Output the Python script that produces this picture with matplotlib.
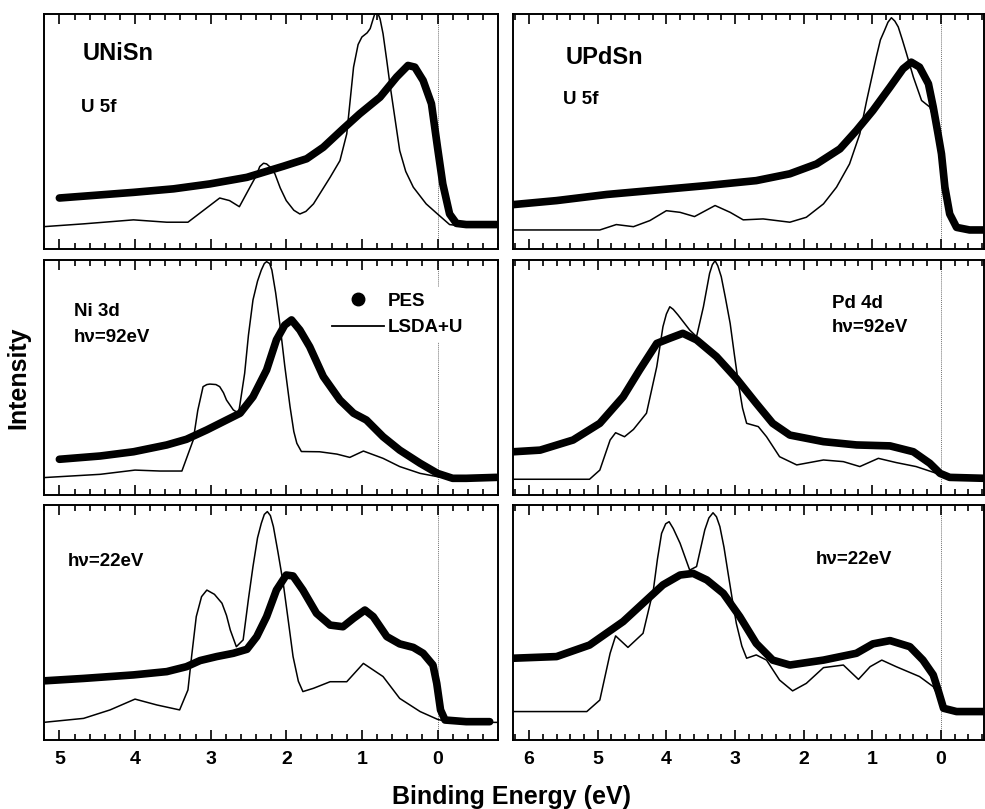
import matplotlib
matplotlib.use("Agg")
import matplotlib.pyplot as plt
from matplotlib.lines import Line2D
from matplotlib.ticker import MultipleLocator

plt.rcParams['font.family'] = ['Liberation Sans', 'DejaVu Sans']
plt.rcParams['font.weight'] = 'bold'

# ---- data (intensity in arbitrary units, 0..1 of panel) ----
# UNiSn, U 5f
unisn_5f_pes_e = [5.0, 4.02, 3.49, 3.01, 2.52, 2.04, 1.73, 1.51, 1.25, 1.03, 0.76, 0.54,
                  0.39, 0.30, 0.19, 0.08, 0.0, -0.07, -0.16, -0.25, -0.38, -0.78]
unisn_5f_pes_i = [0.217, 0.241, 0.256, 0.277, 0.305, 0.352, 0.384, 0.433, 0.511, 0.575, 0.646, 0.732,
                  0.781, 0.774, 0.717, 0.618, 0.433, 0.277, 0.149, 0.109, 0.104, 0.104]
unisn_5f_calc_e = [5.21, 4.68, 4.02, 3.58, 3.30, 3.10, 2.88, 2.75, 2.62, 2.48, 2.40, 2.35, 2.30, 2.26,
                   2.20, 2.15, 2.08, 2.00, 1.90, 1.82, 1.74, 1.64, 1.42, 1.29, 1.20, 1.11, 1.05, 1.00,
                   0.93, 0.89, 0.85, 0.81, 0.76, 0.72, 0.67, 0.63, 0.56, 0.50, 0.42, 0.32, 0.15, 0.0,
                   -0.16, -0.38, -0.82]
unisn_5f_calc_i = [0.095, 0.107, 0.124, 0.114, 0.114, 0.163, 0.217, 0.206, 0.180, 0.263, 0.310, 0.351, 0.365, 0.362,
                   0.345, 0.320, 0.260, 0.206, 0.165, 0.149, 0.160, 0.192, 0.305, 0.376, 0.490, 0.774, 0.870, 0.902,
                   0.920, 0.938, 0.980, 1.02, 0.980, 0.916, 0.800, 0.703, 0.550, 0.419, 0.330, 0.263, 0.192, 0.149,
                   0.104, 0.095, 0.095]

# UPdSn, U 5f
updsn_5f_pes_e = [6.23, 5.60, 4.87, 4.14, 3.41, 2.69, 2.20, 1.81, 1.47, 1.23, 0.99, 0.74, 0.55,
                  0.43, 0.31, 0.18, 0.11, 0.04, -0.01, -0.06, -0.13, -0.23, -0.42, -0.64]
updsn_5f_pes_i = [0.189, 0.206, 0.232, 0.251, 0.270, 0.291, 0.320, 0.362, 0.426, 0.504, 0.589, 0.689, 0.767,
                  0.795, 0.774, 0.703, 0.604, 0.490, 0.405, 0.263, 0.149, 0.092, 0.081, 0.081]
updsn_5f_calc_e = [6.23, 4.97, 4.73, 4.48, 4.24, 4.00, 3.80, 3.59, 3.29, 3.07, 2.88, 2.59, 2.20, 1.96,
                   1.71, 1.52, 1.33, 1.18, 1.08, 0.94, 0.88, 0.82, 0.77, 0.72, 0.67, 0.62, 0.56, 0.50,
                   0.40, 0.28, 0.16, 0.06, -0.01, -0.06, -0.13, -0.23, -0.64]
updsn_5f_calc_i = [0.081, 0.081, 0.104, 0.095, 0.121, 0.163, 0.156, 0.138, 0.185, 0.156, 0.124, 0.128, 0.114, 0.135,
                   0.192, 0.263, 0.362, 0.490, 0.632, 0.817, 0.890, 0.930, 0.965, 0.984, 0.970, 0.945, 0.890, 0.832,
                   0.732, 0.632, 0.604, 0.518, 0.376, 0.263, 0.135, 0.089, 0.081]

# UNiSn, Ni 3d, hv = 92 eV
unisn_92_pes_e = [5.0, 4.46, 4.02, 3.58, 3.32, 3.05, 2.79, 2.61, 2.44, 2.26, 2.13, 2.02, 1.93, 1.82,
                  1.69, 1.51, 1.29, 1.11, 0.94, 0.72, 0.50, 0.23, 0.0, -0.20, -0.38, -0.78]
unisn_92_pes_i = [0.152, 0.166, 0.184, 0.213, 0.237, 0.277, 0.319, 0.348, 0.418, 0.532, 0.660, 0.723, 0.745, 0.702,
                  0.631, 0.504, 0.404, 0.348, 0.319, 0.248, 0.191, 0.135, 0.092, 0.071, 0.071, 0.075]
unisn_92_calc_e = [5.21, 4.46, 4.00, 3.67, 3.38, 3.23, 3.17, 3.10, 3.05, 3.01, 2.93, 2.88, 2.83, 2.79, 2.70,
                   2.63, 2.55, 2.50, 2.44, 2.38, 2.33, 2.29, 2.26, 2.22, 2.19, 2.14, 2.08, 2.02, 1.95,
                   1.90, 1.86, 1.80, 1.56, 1.33, 1.16, 0.98, 0.72, 0.50, 0.23, 0.0, -0.38, -0.82]
unisn_92_calc_i = [0.074, 0.088, 0.106, 0.102, 0.102, 0.234, 0.360, 0.461, 0.470, 0.472, 0.470, 0.461, 0.435, 0.404, 0.362,
                   0.348, 0.518, 0.680, 0.830, 0.910, 0.957, 0.985, 0.993, 0.985, 0.957, 0.860, 0.716, 0.550, 0.376,
                   0.270, 0.220, 0.185, 0.184, 0.174, 0.160, 0.187, 0.156, 0.121, 0.092, 0.078, 0.071, 0.071]

# UPdSn, Pd 4d, hv = 92 eV
updsn_92_pes_e = [6.23, 5.84, 5.36, 4.97, 4.63, 4.39, 4.14, 3.95, 3.76, 3.56, 3.27, 2.98, 2.69, 2.45,
                  2.20, 1.71, 1.23, 0.74, 0.40, 0.16, 0.01, -0.13, -0.64]
updsn_92_pes_i = [0.184, 0.191, 0.234, 0.305, 0.418, 0.532, 0.645, 0.667, 0.688, 0.660, 0.589, 0.496, 0.390, 0.305,
                  0.255, 0.227, 0.213, 0.209, 0.184, 0.135, 0.092, 0.075, 0.071]
updsn_92_calc_e = [6.23, 5.12, 4.97, 4.82, 4.74, 4.61, 4.48, 4.29, 4.14, 4.09, 4.05, 4.00, 3.95, 3.90, 3.83,
                   3.66, 3.56, 3.46, 3.41, 3.37, 3.33, 3.29, 3.25, 3.20, 3.14, 3.07, 3.01, 2.95, 2.89,
                   2.83, 2.66, 2.54, 2.35, 2.10, 1.71, 1.42, 1.18, 0.91, 0.65, 0.36, 0.06, -0.09, -0.64]
updsn_92_calc_i = [0.067, 0.067, 0.106, 0.234, 0.265, 0.248, 0.279, 0.348, 0.546, 0.640, 0.716, 0.770, 0.801, 0.790, 0.766,
                   0.702, 0.674, 0.801, 0.880, 0.943, 0.980, 0.997, 0.975, 0.929, 0.840, 0.730, 0.600, 0.475, 0.370,
                   0.305, 0.291, 0.248, 0.163, 0.128, 0.149, 0.142, 0.121, 0.156, 0.138, 0.121, 0.092, 0.075, 0.071]

# UNiSn, hv = 22 eV
unisn_22_pes_e = [5.19, 4.68, 4.02, 3.58, 3.32, 3.14, 2.92, 2.70, 2.52, 2.39, 2.26, 2.13, 2.00, 1.91, 1.78,
                  1.60, 1.42, 1.25, 1.11, 0.96, 0.85, 0.67, 0.50, 0.32, 0.19, 0.06, 0.01, -0.04, -0.10,
                  -0.38, -0.69]
unisn_22_pes_i = [0.252, 0.262, 0.277, 0.291, 0.312, 0.338, 0.355, 0.369, 0.386, 0.440, 0.525, 0.638, 0.702, 0.698, 0.638,
                  0.539, 0.489, 0.482, 0.518, 0.553, 0.525, 0.440, 0.409, 0.394, 0.369, 0.319, 0.241, 0.128, 0.085,
                  0.078, 0.078]
unisn_22_calc_e = [5.21, 4.68, 4.33, 4.00, 3.71, 3.41, 3.30, 3.25, 3.19, 3.12, 3.05, 2.95, 2.85, 2.79, 2.74,
                   2.66, 2.57, 2.50, 2.44, 2.38, 2.33, 2.29, 2.25, 2.21, 2.17, 2.11, 2.04, 1.97, 1.91,
                   1.84, 1.78, 1.64, 1.42, 1.20, 0.98, 0.72, 0.50, 0.23, 0.0, -0.16, -0.82]
unisn_22_calc_i = [0.075, 0.092, 0.128, 0.174, 0.149, 0.128, 0.213, 0.360, 0.525, 0.610, 0.638, 0.620, 0.582, 0.530, 0.468,
                   0.397, 0.426, 0.600, 0.738, 0.860, 0.922, 0.960, 0.972, 0.955, 0.908, 0.800, 0.667, 0.500, 0.355,
                   0.250, 0.206, 0.220, 0.248, 0.248, 0.326, 0.270, 0.177, 0.121, 0.088, 0.075, 0.075]

# UPdSn, hv = 22 eV
updsn_22_pes_e = [6.23, 5.60, 5.12, 4.63, 4.34, 4.05, 3.80, 3.61, 3.41, 3.17, 2.93, 2.69, 2.45, 2.20, 1.71,
                  1.23, 0.99, 0.74, 0.45, 0.26, 0.11, 0.04, -0.04, -0.23, -0.64]
updsn_22_pes_i = [0.348, 0.355, 0.404, 0.504, 0.582, 0.660, 0.702, 0.709, 0.681, 0.624, 0.525, 0.411, 0.340, 0.319, 0.340,
                  0.369, 0.409, 0.423, 0.397, 0.340, 0.277, 0.213, 0.135, 0.121, 0.121]
updsn_22_calc_e = [6.23, 5.16, 4.97, 4.82, 4.74, 4.56, 4.34, 4.19, 4.13, 4.07, 4.01, 3.96, 3.90, 3.80, 3.66,
                   3.56, 3.44, 3.38, 3.32, 3.27, 3.22, 3.16, 3.10, 3.04, 2.98, 2.90, 2.83, 2.69, 2.54,
                   2.35, 2.16, 1.96, 1.71, 1.42, 1.20, 1.03, 0.86, 0.65, 0.31, 0.11, 0.01, -0.06, -0.64]
updsn_22_calc_i = [0.121, 0.121, 0.170, 0.369, 0.443, 0.394, 0.454, 0.638, 0.770, 0.879, 0.920, 0.929, 0.900, 0.837, 0.723,
                   0.738, 0.894, 0.945, 0.967, 0.950, 0.908, 0.820, 0.709, 0.600, 0.496, 0.400, 0.348, 0.362, 0.340,
                   0.255, 0.209, 0.241, 0.308, 0.319, 0.258, 0.312, 0.340, 0.312, 0.270, 0.227, 0.170, 0.128, 0.121]

left_xlim = (5.21, -0.80)
right_xlim = (6.24, -0.63)
left_ticks = [5, 4, 3, 2, 1, 0]
right_ticks = [6, 5, 4, 3, 2, 1, 0]

panels = [
    # (row, col, pes_e, pes_i, calc_e, calc_i)
    (0, 0, unisn_5f_pes_e, unisn_5f_pes_i, unisn_5f_calc_e, unisn_5f_calc_i),
    (0, 1, updsn_5f_pes_e, updsn_5f_pes_i, updsn_5f_calc_e, updsn_5f_calc_i),
    (1, 0, unisn_92_pes_e, unisn_92_pes_i, unisn_92_calc_e, unisn_92_calc_i),
    (1, 1, updsn_92_pes_e, updsn_92_pes_i, updsn_92_calc_e, updsn_92_calc_i),
    (2, 0, unisn_22_pes_e, unisn_22_pes_i, unisn_22_calc_e, unisn_22_calc_i),
    (2, 1, updsn_22_pes_e, updsn_22_pes_i, updsn_22_calc_e, updsn_22_calc_i),
]

W, H = 985, 809
fig = plt.figure(figsize=(W / 100, H / 100), dpi=100)

col_box = {0: (43.5, 498.0), 1: (512.7, 984.0)}
row_box = {0: (14, 249), 1: (260, 495), 2: (505, 740)}

axes = {}
for row, col, pe, pi, ce, ci in panels:
    x0, x1 = col_box[col]
    y0, y1 = row_box[row]
    ax = fig.add_axes([x0 / W, 1 - y1 / H, (x1 - x0) / W, (y1 - y0) / H])
    axes[(row, col)] = ax

    ax.axvline(0, color='0.45', lw=0.7, ls=(0, (1, 1)), zorder=1)
    ax.plot(ce, ci, color='black', lw=1.1, zorder=2)
    # PES: dense dots drawn as a thick dotted band
    ax.plot(pe, pi, color='black', lw=5.5, solid_capstyle='round',
            solid_joinstyle='round', zorder=3)

    ax.set_xlim(left_xlim if col == 0 else right_xlim)
    ax.set_ylim(0, 1)
    ax.set_yticks([])
    ax.xaxis.set_major_locator(MultipleLocator(1))
    ax.xaxis.set_minor_locator(MultipleLocator(0.2))
    ax.tick_params(axis='x', which='both', direction='in', top=True, bottom=True,
                   width=1.2, labelsize=14, pad=8)
    ax.tick_params(axis='x', which='major', length=7)
    ax.tick_params(axis='x', which='minor', length=4)
    for sp in ax.spines.values():
        sp.set_linewidth(1.4)
    if row == 2:
        ax.set_xticks(left_ticks if col == 0 else right_ticks)
        for lab in ax.get_xticklabels():
            lab.set_fontweight('bold')
    else:
        ax.tick_params(axis='x', labelbottom=False)


def put(x, y, s, size):
    fig.text(x / W, 1 - y / H, s, fontsize=size, fontweight='bold', va='center', ha='left')


put(83, 54, 'UNiSn', 17)
put(81, 107, 'U 5f', 13.5)
put(566, 57, 'UPdSn', 17)
put(563, 100, 'U 5f', 13.5)
put(74, 312, 'Ni 3d', 13.5)
put(74, 337, 'h\u03bd=92eV', 13.5)
put(832, 303, 'Pd 4d', 13.5)
put(832, 328, 'h\u03bd=92eV', 13.5)
put(68, 561, 'h\u03bd=22eV', 13.5)
put(816, 560, 'h\u03bd=22eV', 13.5)

handles = [Line2D([], [], ls='none', marker='o', ms=9, color='black'),
           Line2D([], [], color='black', lw=1.3)]
leg = axes[(1, 0)].legend(handles, ['PES', 'LSDA+U'], loc='upper left',
                          bbox_to_anchor=((326 - 43.5) / 454.5, 1 - (287 - 260) / 235),
                          borderaxespad=0, prop={'size': 13.5, 'weight': 'bold'},
                          handlelength=2.8, handletextpad=0.2, labelspacing=0.5,
                          frameon=True, fancybox=False, framealpha=1, borderpad=0.3)
leg.get_frame().set_edgecolor('none')
leg.get_frame().set_facecolor('white')

fig.text(512 / W, 1 - 797 / H, 'Binding Energy (eV)', fontsize=18, fontweight='bold',
         ha='center', va='center')
fig.text(18 / W, 1 - 378 / H, 'Intensity', fontsize=18, fontweight='bold',
         ha='center', va='center', rotation=90)

fig.savefig('out.png', dpi=100)
